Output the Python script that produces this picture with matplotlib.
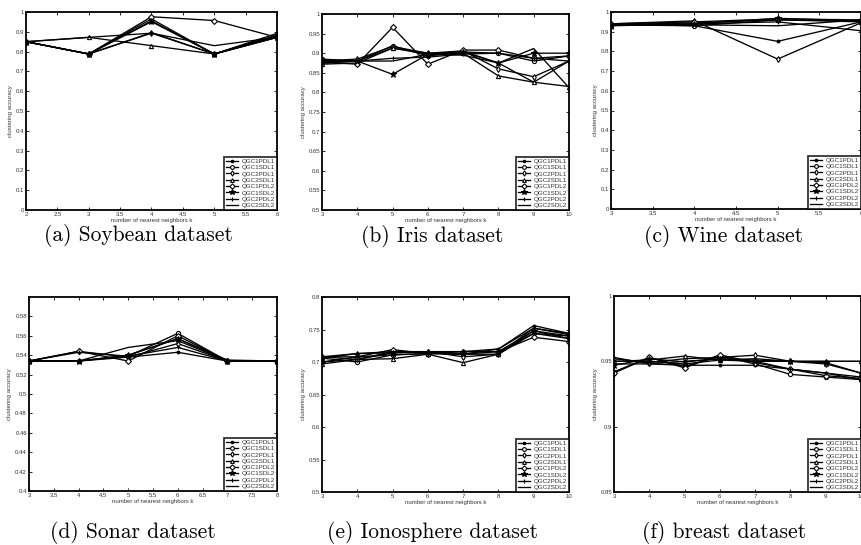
import matplotlib
matplotlib.use("Agg")
import matplotlib.pyplot as plt
from matplotlib.ticker import FuncFormatter, FixedLocator
import numpy as np

series_names = ["QGC1PDL1", "QGC1SDL1", "QGC2PDL1", "QGC2SDL1",
                "QGC1PDL2", "QGC1SDL2", "QGC2PDL2", "QGC2SDL2"]
markers = [".", "o", "d", "^", "D", "*", "+", ""]

# (a) Soybean
soy_k = [2, 3, 4, 5, 6]
soy_vals = [
    [0.85, 0.788, 0.951, 0.788, 0.872],
    [0.85, 0.788, 0.965, 0.788, 0.880],
    [0.85, 0.788, 0.896, 0.788, 0.872],
    [0.85, 0.872, 0.830, 0.788, 0.884],
    [0.85, 0.788, 0.976, 0.957, 0.872],
    [0.85, 0.788, 0.955, 0.788, 0.872],
    [0.85, 0.788, 0.893, 0.788, 0.892],
    [0.85, 0.872, 0.893, 0.830, 0.872],
]
# (b) Iris
iris_k = [3, 4, 5, 6, 7, 8, 9, 10]
iris_vals = [
    [0.878, 0.880, 0.913, 0.897, 0.905, 0.875, 0.826, 0.880],
    [0.885, 0.880, 0.919, 0.893, 0.903, 0.900, 0.880, 0.893],
    [0.880, 0.885, 0.917, 0.900, 0.906, 0.860, 0.840, 0.880],
    [0.872, 0.875, 0.913, 0.900, 0.900, 0.842, 0.826, 0.815],
    [0.877, 0.872, 0.966, 0.872, 0.908, 0.908, 0.887, 0.893],
    [0.882, 0.880, 0.846, 0.897, 0.903, 0.875, 0.900, 0.900],
    [0.875, 0.880, 0.887, 0.890, 0.898, 0.900, 0.887, 0.880],
    [0.875, 0.880, 0.880, 0.897, 0.895, 0.875, 0.912, 0.812],
]
# (c) Wine
wine_k = [3, 4, 5, 6]
wine_vals = [
    [0.935, 0.930, 0.851, 0.950],
    [0.940, 0.930, 0.960, 0.955],
    [0.940, 0.955, 0.761, 0.945],
    [0.935, 0.945, 0.960, 0.950],
    [0.940, 0.950, 0.965, 0.960],
    [0.930, 0.940, 0.968, 0.955],
    [0.935, 0.940, 0.950, 0.905],
    [0.940, 0.935, 0.930, 0.960],
]
# (d) Sonar
sonar_k = [3, 4, 5, 6, 7, 8]
sonar_vals = [
    [0.534, 0.534, 0.538, 0.543, 0.534, 0.534],
    [0.534, 0.534, 0.539, 0.5625, 0.534, 0.534],
    [0.534, 0.544, 0.538, 0.552, 0.534, 0.534],
    [0.534, 0.534, 0.540, 0.557, 0.535, 0.534],
    [0.534, 0.544, 0.534, 0.560, 0.534, 0.534],
    [0.534, 0.534, 0.540, 0.557, 0.534, 0.534],
    [0.534, 0.543, 0.539, 0.548, 0.534, 0.534],
    [0.534, 0.534, 0.548, 0.555, 0.534, 0.534],
]
# (e) Ionosphere
iono_k = [3, 4, 5, 6, 7, 8, 9, 10]
iono_vals = [
    [0.708, 0.713, 0.716, 0.715, 0.716, 0.720, 0.756, 0.744],
    [0.706, 0.700, 0.711, 0.713, 0.712, 0.716, 0.744, 0.740],
    [0.700, 0.704, 0.714, 0.716, 0.708, 0.712, 0.748, 0.736],
    [0.697, 0.704, 0.705, 0.712, 0.699, 0.712, 0.752, 0.742],
    [0.708, 0.708, 0.719, 0.713, 0.716, 0.716, 0.738, 0.7315],
    [0.706, 0.713, 0.714, 0.716, 0.716, 0.716, 0.748, 0.740],
    [0.700, 0.708, 0.711, 0.713, 0.712, 0.712, 0.744, 0.736],
    [0.708, 0.704, 0.716, 0.716, 0.712, 0.720, 0.752, 0.744],
]
# (f) breast
breast_k = [3, 4, 5, 6, 7, 8, 9, 10]
breast_vals = [
    [0.948, 0.948, 0.947, 0.947, 0.947, 0.944, 0.941, 0.938],
    [0.942, 0.953, 0.946, 0.954, 0.948, 0.940, 0.938, 0.936],
    [0.952, 0.949, 0.952, 0.953, 0.9547, 0.950, 0.948, 0.941],
    [0.950, 0.951, 0.954, 0.951, 0.952, 0.950, 0.950, 0.950],
    [0.941, 0.953, 0.945, 0.955, 0.949, 0.944, 0.939, 0.937],
    [0.947, 0.952, 0.9496, 0.952, 0.950, 0.950, 0.949, 0.941],
    [0.950, 0.950, 0.948, 0.951, 0.950, 0.944, 0.941, 0.936],
    [0.953, 0.948, 0.950, 0.952, 0.951, 0.950, 0.950, 0.950],
]

captions = ["(a) Soybean dataset", "(b) Iris dataset", "(c) Wine dataset",
            "(d) Sonar dataset", "(e) Ionosphere dataset", "(f) breast dataset"]

xticks_list = [
    [2, 2.5, 3, 3.5, 4, 4.5, 5, 5.5, 6],
    [3, 4, 5, 6, 7, 8, 9, 10],
    [3, 3.5, 4, 4.5, 5, 5.5, 6],
    [3, 3.5, 4, 4.5, 5, 5.5, 6, 6.5, 7, 7.5, 8],
    [3, 4, 5, 6, 7, 8, 9, 10],
    [3, 4, 5, 6, 7, 8, 9, 10],
]
yticks_list = [
    [0, 0.1, 0.2, 0.3, 0.4, 0.5, 0.6, 0.7, 0.8, 0.9, 1],
    [0.5, 0.55, 0.6, 0.65, 0.7, 0.75, 0.8, 0.85, 0.9, 0.95, 1],
    [0, 0.1, 0.2, 0.3, 0.4, 0.5, 0.6, 0.7, 0.8, 0.9, 1],
    [0.4, 0.42, 0.44, 0.46, 0.48, 0.5, 0.52, 0.54, 0.56, 0.58],
    [0.5, 0.55, 0.6, 0.65, 0.7, 0.75, 0.8],
    [0.85, 0.9, 0.95, 1],
]
ylims = [(0, 1), (0.5, 1), (0, 1), (0.4, 0.6), (0.5, 0.8), (0.85, 1)]

datasets = [(soy_k, soy_vals), (iris_k, iris_vals), (wine_k, wine_vals),
            (sonar_k, sonar_vals), (iono_k, iono_vals), (breast_k, breast_vals)]

W, H = 862, 545
# axes boxes in pixels: left, top, right, bottom
boxes = [
    (26, 12, 277, 210),
    (322, 14, 569, 210),
    (611, 12, 861, 209),
    (29, 297, 277, 491),
    (322, 297, 569, 492),
    (614, 296, 861, 492),
]
cap_pos = [(138, 235), (432, 236), (724, 237), (133, 533), (433, 533), (724, 533)]

fig = plt.figure(figsize=(W / 100, H / 100), dpi=100)
small = dict(family="Liberation Sans", size=4.3, color="#333333")
fmt = FuncFormatter(lambda v, p: "%g" % round(v, 4))

for i, ((ks, vals), box) in enumerate(zip(datasets, boxes)):
    l, t, r, b = box
    ax = fig.add_axes([l / W, 1 - b / H, (r - l) / W, (b - t) / H])
    for name, mk, v in zip(series_names, markers, vals):
        mfc = "black" if mk in (".", "*", "+") else "white"
        ms = 4.5 if mk == "*" else (3 if mk != "." else 4)
        ax.plot(ks, v, color="black", lw=0.95, marker=mk if mk else None,
                ms=ms, mfc=mfc, mec="black", mew=0.8, label=name)
    ax.set_xlim(ks[0], ks[-1])
    ax.set_ylim(*ylims[i])
    ax.xaxis.set_major_locator(FixedLocator(xticks_list[i]))
    ax.yaxis.set_major_locator(FixedLocator(yticks_list[i]))
    ax.xaxis.set_major_formatter(fmt)
    ax.yaxis.set_major_formatter(fmt)
    ax.tick_params(direction="in", length=2, width=0.6, top=True, right=True,
                   pad=1.5, labelsize=4.3, labelcolor="#333333")
    for lab in ax.get_xticklabels() + ax.get_yticklabels():
        lab.set_family("Liberation Sans")
    for sp in ax.spines.values():
        sp.set_linewidth(1.3)
    ax.set_xlabel("number of nearest neighbors k", fontdict=small, labelpad=1)
    ax.set_ylabel("clustering accuracy", fontdict=small, labelpad=2)
    leg = ax.legend(loc="lower right", prop=dict(family="Liberation Sans", size=4.5),
                    frameon=True, fancybox=False, borderpad=0.3, labelspacing=0.15,
                    handlelength=2.0, handletextpad=0.6, borderaxespad=0.0,
                    markerscale=0.9)
    leg.get_frame().set_edgecolor("black")
    leg.get_frame().set_linewidth(1.3)
    for txt in leg.get_texts():
        txt.set_color("#333333")
    cx, cy = cap_pos[i]
    fig.text(cx / W, 1 - cy / H, captions[i], ha="center", va="center",
             family="cmr10", size=15.5)

fig.savefig("out.png", dpi=100)
